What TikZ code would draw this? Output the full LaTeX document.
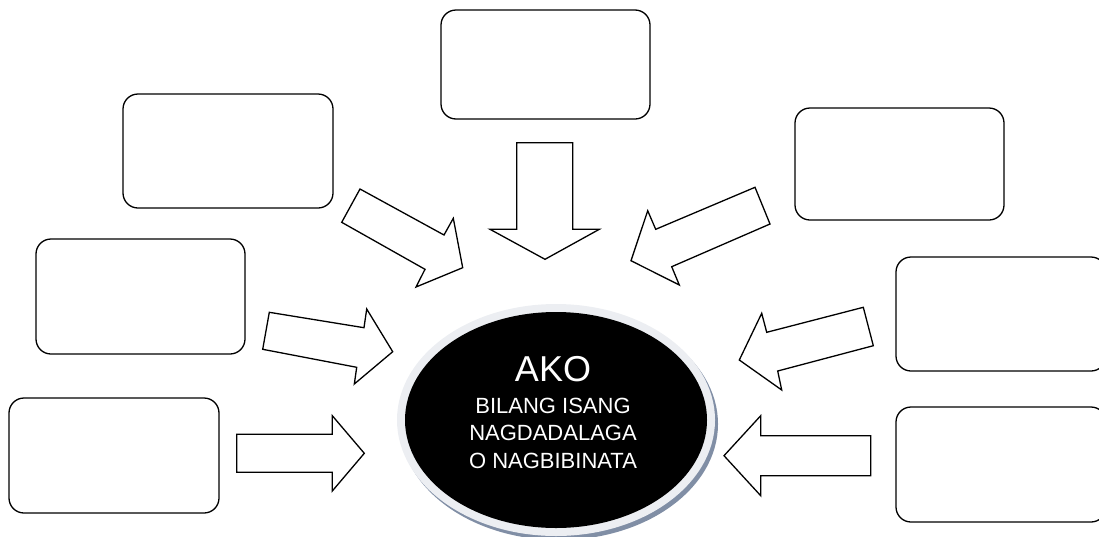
\documentclass[tikz,border=0pt]{standalone}
\usepackage{fontspec}
\setmainfont{Liberation Sans}
\begin{document}
\begin{tikzpicture}[x=1pt,y=-1pt,
  box/.style={draw=black, line width=1.3pt, rounded corners=15pt, fill=white},
  blockarrow/.style={draw=black, line width=1.3pt, fill=white, line join=miter},
  ctext/.style={text=white, align=center, inner sep=0pt}]
\useasboundingbox (0,0) rectangle (1099,536);
\clip (0,0) rectangle (1099,536);

% empty rounded boxes around the centre
\draw[box] (441,10)   rectangle (650,119);
\draw[box] (123,94)   rectangle (333,208);
\draw[box] (795,108)  rectangle (1004,220);
\draw[box] (36,239)   rectangle (245,354);
\draw[box] (896,257)  rectangle (1106,371);
\draw[box] (9,398)    rectangle (219,513);
\draw[box] (896,407)  rectangle (1106,522);

% block arrows pointing at the centre
\draw[blockarrow] (516.7,142.7) -- (572.7,142.7) -- (572.7,229.3) -- (599.3,229.3)
  -- (545,259.3) -- (490,229.3) -- (516.7,229.3) -- cycle;
\draw[blockarrow] (360,189) -- (444,235) -- (453.3,218.3) -- (462.7,267.7)
  -- (416,287) -- (425,269.3) -- (341.7,222.3) -- cycle;
\draw[blockarrow] (755,187.3) -- (770,224) -- (671.7,266.7) -- (679.3,285)
  -- (631,260.7) -- (647.7,210.7) -- (655.7,229.3) -- cycle;
\draw[blockarrow] (269.3,312.3) -- (364,327.7) -- (366.7,309) -- (392.7,351.7)
  -- (354.3,384) -- (356.7,367.3) -- (262.7,349.3) -- cycle;
\draw[blockarrow] (863.3,307.3) -- (873.3,345.7) -- (777.7,371) -- (781.7,390)
  -- (739.3,360) -- (761.7,313.3) -- (766.7,332.3) -- cycle;
\draw[blockarrow] (236.7,434.3) -- (332.3,434.3) -- (332.3,415.7) -- (364.3,453.3)
  -- (332.3,491) -- (332.3,472.3) -- (236.7,472.3) -- cycle;
\draw[blockarrow] (870.7,435.7) -- (760.7,435.7) -- (760.7,415.7) -- (724,455.7)
  -- (760.7,495.7) -- (760.7,475.7) -- (870.7,475.7) -- cycle;

% central ellipse with rim and shadow
\fill[color={rgb,255:red,128;green,142;blue,165}] (559,424) ellipse [x radius=159, y radius=116];
\fill[color={rgb,255:red,236;green,238;blue,242}] (556,420) ellipse [x radius=159, y radius=116];
\fill[black] (556,420) ellipse [x radius=151, y radius=108];

\node[ctext, font=\fontsize{36}{40}\selectfont] (ako) at (553,369) {AKO};
\node[ctext, font=\fontsize{22}{27.5}\selectfont] (sub) at (553,433)
  {BILANG ISANG\\NAGDADALAGA\\O NAGBIBINATA};
\end{tikzpicture}
\end{document}
